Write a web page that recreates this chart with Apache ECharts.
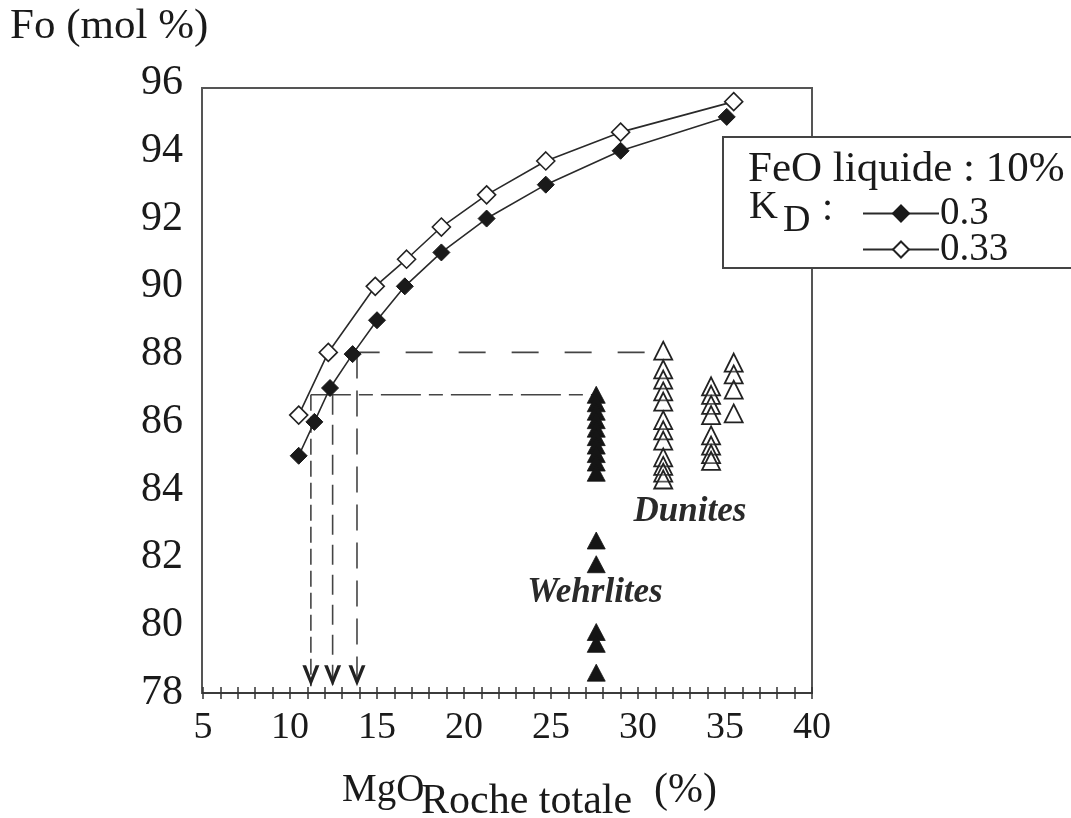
<!DOCTYPE html>
<html><head><meta charset="utf-8">
<script src="https://cdn.jsdelivr.net/npm/echarts@6/dist/echarts.min.js"></script>
<style>html,body{margin:0;padding:0;background:#fff}#c{width:1071px;height:818px}</style>
</head><body><div id="c"></div>
<script>
// ---- data ----
const mgoKd030 = [10.5, 11.4, 12.3, 13.6, 15.0, 16.6, 18.7, 21.3, 24.7, 29.0, 35.1];
const foKd030  = [85.0, 86.0, 87.0, 88.0, 89.0, 90.0, 91.0, 92.0, 93.0, 94.0, 95.0];
const mgoKd033 = [10.5, 12.2, 14.9, 16.7, 18.7, 21.3, 24.7, 29.0, 35.5];
const foKd033  = [86.2, 88.05, 90.0, 90.8, 91.75, 92.7, 93.7, 94.55, 95.45];

const mgoWehrlites = [27.6, 27.6, 27.6, 27.6, 27.6, 27.6, 27.6, 27.6, 27.6, 27.6, 27.6, 27.6, 27.6, 27.6, 27.6];
const foWehrlites  = [86.8, 86.55, 86.3, 86.05, 85.8, 85.55, 85.3, 85.05, 84.8, 84.5, 82.5, 81.8, 79.8, 79.45, 78.6];

const mgoDunites = [31.45, 31.45, 31.45, 31.45, 31.45, 31.45, 31.45, 31.45, 31.45, 31.45, 31.45, 31.45,
                    34.2, 34.2, 34.2, 34.2, 34.2, 34.2, 34.2, 34.2,
                    35.5, 35.5, 35.5, 35.5];
const foDunites  = [88.1, 87.55, 87.25, 86.9, 86.6, 86.05, 85.75, 85.45, 84.95, 84.7, 84.5, 84.3,
                    87.05, 86.8, 86.5, 86.2, 85.6, 85.3, 85.05, 84.85,
                    87.75, 87.4, 86.95, 86.25];

// guide lines
const hGuideFo   = [86.8, 88.05];
const hGuideFrom = [11.2, 13.6];
const hGuideTo   = [27.4, 31.2];
const vGuideMgo  = [11.2, 12.45, 13.85];
const vGuideTop  = [86.8, 86.8, 88.05];
const arrowFo    = 78.2;

const seriesNames = ['0.3', '0.33'];

// ---- chart ----
const FONT = '"Liberation Serif","Times New Roman",Times,serif';
const INK = '#1a1a1a';
const zip = (a, b) => a.map((v, i) => [v, b[i]]);

const hDash = [[40, 8, 14, 8], [27, 26]];
const vDash = [[16, 6], [20, 10], [26, 12]];

const guideSeries = [];
hGuideFo.forEach((fo, i) => {
  guideSeries.push({
    type: 'line', silent: true, symbol: 'none', z: 1,
    data: [[hGuideFrom[i], fo], [hGuideTo[i], fo]],
    lineStyle: { color: '#444', width: 1.6, type: hDash[i] }
  });
});
vGuideMgo.forEach((x, i) => {
  guideSeries.push({
    type: 'line', silent: true, symbol: 'none', z: 1,
    data: [[x, vGuideTop[i]], [x, arrowFo]],
    lineStyle: { color: '#444', width: 1.6, type: vDash[i] }
  });
});

const chart = echarts.init(document.getElementById('c'), null, { renderer: 'canvas' });
chart.setOption({
  backgroundColor: '#fff',
  animation: false,
  textStyle: { fontFamily: FONT },
  grid: { left: 203, right: 259, top: 83, bottom: 125, containLabel: false },
  xAxis: [{
    type: 'value', min: 5, max: 40, interval: 5,
    axisLine: { show: true, lineStyle: { color: '#333', width: 1.5 } },
    axisTick: { show: true, length: 6, lineStyle: { color: '#333', width: 1.5 } },
    minorTick: { show: true, splitNumber: 5, length: 6, lineStyle: { color: '#333', width: 1.5 } },
    axisLabel: { fontSize: 38, fontFamily: FONT, color: INK, margin: 16 },
    splitLine: { show: false }
  }, {
    type: 'value', min: 5, max: 40, interval: 5, position: 'bottom',
    axisLine: { show: false },
    axisTick: { show: true, inside: true, length: 6, lineStyle: { color: '#333', width: 1.5 } },
    minorTick: { show: true, splitNumber: 5, length: 6, lineStyle: { color: '#333', width: 1.5 } },
    axisLabel: { show: false },
    splitLine: { show: false }
  }],
  yAxis: {
    type: 'value', min: 78, max: 96, interval: 2,
    axisLine: { show: false }, axisTick: { show: false },
    axisLabel: { fontSize: 42, fontFamily: FONT, color: INK, margin: 20 },
    splitLine: { show: false }
  },
  legend: {
    data: seriesNames,
    orient: 'vertical', left: 857, top: 189,
    itemWidth: 76, itemHeight: 20, itemGap: -3,
    textStyle: { fontSize: 39, fontFamily: FONT, color: INK, lineHeight: 34, padding: [0, 0, 0, -4] },
    selectedMode: false, z: 6
  },
  series: guideSeries.concat([
    {
      name: seriesNames[0], type: 'line', z: 3,
      data: zip(mgoKd030, foKd030),
      symbol: 'diamond', symbolSize: 17,
      itemStyle: { color: '#1a1a1a', borderColor: '#1a1a1a', borderWidth: 1 },
      lineStyle: { color: '#2a2a2a', width: 1.6 }
    },
    {
      name: seriesNames[1], type: 'line', z: 3,
      data: zip(mgoKd033, foKd033),
      symbol: 'diamond', symbolSize: 18,
      itemStyle: { color: '#fff', borderColor: '#222', borderWidth: 1.6 },
      lineStyle: { color: '#2a2a2a', width: 1.6 }
    },
    {
      name: 'Wehrlites', type: 'scatter', z: 4,
      data: zip(mgoWehrlites, foWehrlites),
      symbol: 'triangle', symbolSize: [18, 17],
      itemStyle: { color: '#151515', borderColor: '#151515', borderWidth: 0.8, opacity: 1 }
    },
    {
      name: 'Dunites', type: 'scatter', z: 4,
      data: zip(mgoDunites, foDunites),
      symbol: 'triangle', symbolSize: [18, 18],
      itemStyle: { color: 'rgba(255,255,255,0.25)', borderColor: '#222', borderWidth: 1.8, opacity: 1 }
    },
    {
      name: 'arrows', type: 'scatter', z: 4, silent: true,
      data: vGuideMgo.map(x => [x, arrowFo]),
      symbol: 'path://M0,0 L8,20 L16,0 L12.5,0 L8,12 L3.5,0 Z',
      symbolSize: [17, 21], symbolOffset: [0, '-50%'],
      itemStyle: { color: '#222', opacity: 1 }
    }
  ]),
  graphic: [
    { type: 'rect', z: 0, silent: true,
      shape: { x: 202, y: 88, width: 610, height: 605 },
      style: { fill: 'none', stroke: '#555', lineWidth: 2 } },
    { type: 'rect', z: 5, silent: true,
      shape: { x: 723, y: 137, width: 360, height: 131 },
      style: { fill: '#fff', stroke: '#444', lineWidth: 2 } },
    { type: 'text', z: 6, silent: true,
      style: { x: 10, y: 27, text: 'Fo (mol %)', font: '43px ' + FONT, fill: INK, textVerticalAlign: 'middle', verticalAlign: 'middle' } },
    { type: 'text', z: 6, silent: true,
      style: { x: 748, y: 170, text: 'FeO liquide : 10%', font: '43px ' + FONT, fill: INK, textVerticalAlign: 'middle', verticalAlign: 'middle' } },
    { type: 'text', z: 6, silent: true,
      style: { x: 749, y: 207, text: 'K', font: '40px ' + FONT, fill: INK, textVerticalAlign: 'middle', verticalAlign: 'middle' } },
    { type: 'text', z: 6, silent: true,
      style: { x: 783, y: 221, text: 'D', font: '38px ' + FONT, fill: INK, textVerticalAlign: 'middle', verticalAlign: 'middle' } },
    { type: 'text', z: 6, silent: true,
      style: { x: 822, y: 209, text: ':', font: '40px ' + FONT, fill: INK, textVerticalAlign: 'middle', verticalAlign: 'middle' } },
    { type: 'text', z: 6, silent: true,
      style: { x: 595, y: 593, text: 'Wehrlites', font: 'italic bold 35px ' + FONT, fill: '#2a2a2a',
               textAlign: 'center', align: 'center', textVerticalAlign: 'middle', verticalAlign: 'middle' } },
    { type: 'text', z: 6, silent: true,
      style: { x: 690, y: 512, text: 'Dunites', font: 'italic bold 35px ' + FONT, fill: '#2a2a2a',
               textAlign: 'center', align: 'center', textVerticalAlign: 'middle', verticalAlign: 'middle' } },
    { type: 'text', z: 6, silent: true,
      style: { x: 342, y: 791, text: 'MgO', font: '39px ' + FONT, fill: INK, textVerticalAlign: 'middle', verticalAlign: 'middle' } },
    { type: 'text', z: 6, silent: true,
      style: { x: 421, y: 802, text: 'Roche totale', font: '42px ' + FONT, fill: INK, textVerticalAlign: 'middle', verticalAlign: 'middle' } },
    { type: 'text', z: 6, silent: true,
      style: { x: 654, y: 791, text: '(%)', font: '42px ' + FONT, fill: INK, textVerticalAlign: 'middle', verticalAlign: 'middle' } }
  ]
});
</script>
</body></html>
